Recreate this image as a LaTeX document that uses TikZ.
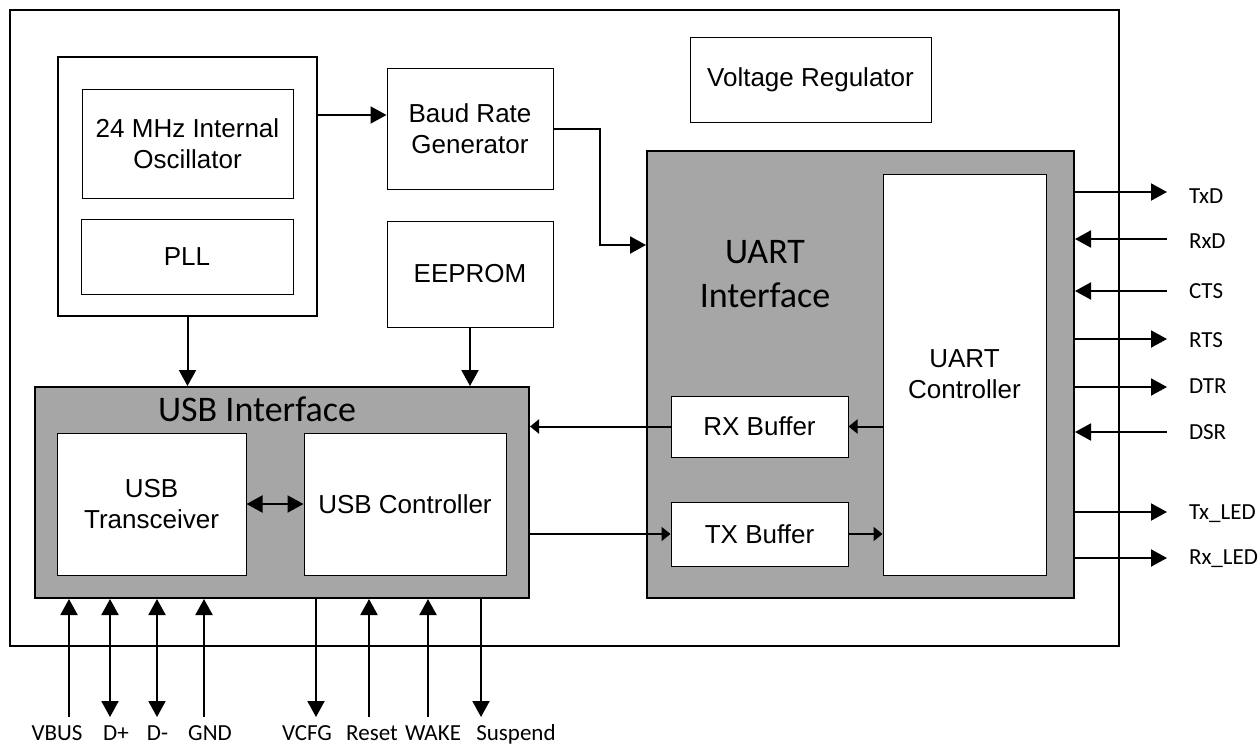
\documentclass[tikz,border=0pt]{standalone}
\usepackage{fontspec}
\setmainfont{Liberation Sans}
\newfontfamily\pinfont{Carlito}
\usetikzlibrary{arrows.meta}
\definecolor{blk-gray}{RGB}{166, 166, 166}

\tikzset{
  blk/.style={draw, line width=1pt, fill=white, align=center, inner sep=0pt,
    font=\fontsize{26}{31}\selectfont},
  group/.style={draw, line width=2pt, fill=blk-gray, inner sep=0pt},
  buslink/.style={-{Triangle[length=9pt, width=14pt]}},
  pinin/.style={<-},
  pinout/.style={->},
  pinboth/.style={<->},
  pinlbl/.style={inner sep=0pt, font=\pinfont\fontsize{23}{28}\selectfont},
  title/.style={inner sep=0pt, align=center, font=\pinfont\fontsize{36}{44}\selectfont},
}

\begin{document}
\begin{tikzpicture}[x=1pt, y=-1pt, line width=2pt, >={Triangle[length=16pt, width=17pt]}]
  \useasboundingbox (0,0) rectangle (1260,747);

  % chip outline
  \draw (10,10) rectangle (1119,646);

  % clock
  \node[blk, line width=2pt, minimum width=259pt, minimum height=259pt] (clk) at (187.5,186.5) {};
  \node[blk, minimum width=211pt, minimum height=109pt] (osc) at (187.5,143.5) {24 MHz Internal\\Oscillator};
  \node[blk, minimum width=212pt, minimum height=75pt] (pll) at (187,256.5) {PLL};

  \node[blk, minimum width=166pt, minimum height=121pt] (baud) at (470,128.5) {Baud Rate\\Generator};
  \node[blk, minimum width=166pt, minimum height=106pt] (eeprom) at (470,274) {EEPROM};
  \node[blk, minimum width=241pt, minimum height=85pt] (vreg) at (810.5,79.5) {Voltage Regulator};

  % UART block
  \node[group, minimum width=427pt, minimum height=447pt] (uart) at (860.5,374.5) {};
  \node[title] (uart-title) at (765,274) {UART\\Interface};
  \node[blk, minimum width=163pt, minimum height=401pt] (uartctl) at (964.5,374.5) {UART\\Controller};
  \node[blk, minimum width=177pt, minimum height=61pt] (rxbuf) at (759.5,426.5) {RX Buffer};
  \node[blk, minimum width=177pt, minimum height=64pt] (txbuf) at (759.5,534) {TX Buffer};

  % USB block
  \node[group, minimum width=494pt, minimum height=211pt] (usb) at (282,492.5) {};
  \node[title, anchor=base] (usb-title) at (257,421) {USB Interface};
  \node[blk, minimum width=189pt, minimum height=142pt] (xcvr) at (151.5,504) {USB\\Transceiver};
  \node[blk, minimum width=202pt, minimum height=142pt] (usbctl) at (405,504) {USB Controller};

  \draw[->] (clk.east |- 0,115) -- (baud.west |- 0,115);
  \draw[->] (baud.east |- 0,129) -| (600,245) -- (uart.west |- 0,245);
  \draw[->] (clk.south) -- (clk.south |- usb.north);
  \draw[->] (eeprom.south) -- (eeprom.south |- usb.north);
  \draw[<->] (xcvr.east) -- (usbctl.west);

  \draw[buslink] (uartctl.west |- rxbuf.east) -- (rxbuf.east);
  \draw[buslink] (rxbuf.west) -- (usb.east |- rxbuf.west);
  \draw[buslink] (usb.east |- txbuf.west) -- (txbuf.west);
  \draw[buslink] (txbuf.east) -- (uartctl.west |- txbuf.east);

  % serial pins
  \foreach \y/\ly/\d/\name [count=\i] in {192/203/out/TxD, 239/248/in/RxD, 291/298/in/CTS,
      339/347/out/RTS, 387/393/out/DTR, 432/439/in/DSR, 512/519/out/Tx\_LED, 558/564/out/Rx\_LED} {
    \coordinate (r\i) at (1167,\y);
    \draw[pin\d] (uart.east |- r\i) -- (r\i);
    \node[pinlbl, anchor=base west] (rl\i) at (1188,\ly) {\name};
  }

  % usb pins
  \foreach \x/\lx/\d/\name [count=\i] in {69/57/in/VBUS, 110/116/both/D+, 157/157.5/both/D-,
      204/210/in/GND, 316/307/out/VCFG, 369/372/in/Reset, 428/433/in/WAKE, 481/516/out/Suspend} {
    \coordinate (b\i) at (\x,717);
    \draw[pin\d] (usb.south -| b\i) -- (b\i);
    \node[pinlbl, anchor=base] (bl\i) at (\lx,740) {\name};
  }
\end{tikzpicture}
\end{document}
